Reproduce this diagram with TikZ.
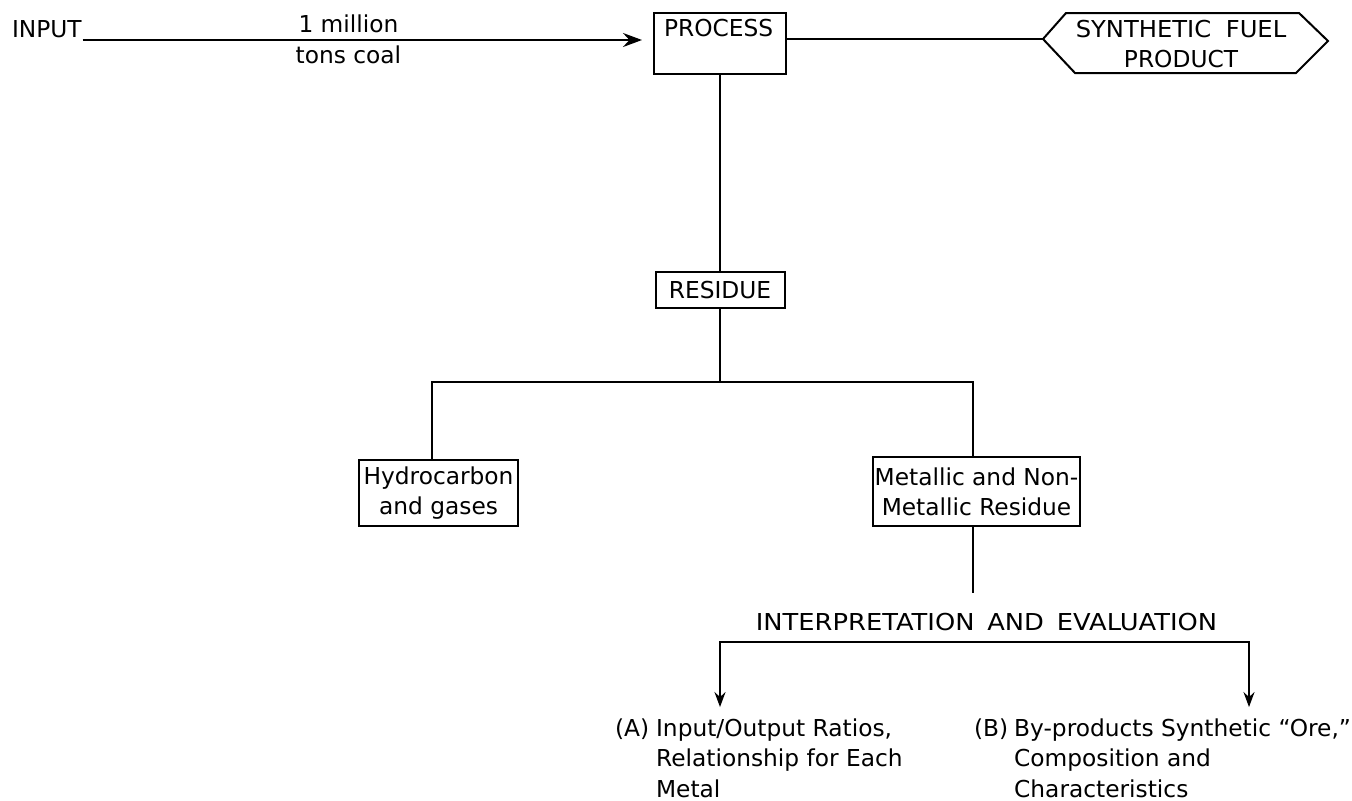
\documentclass[tikz,border=0pt]{standalone}
\usepackage{fontspec}
\setmainfont{DejaVu Sans}
\usepackage{graphicx}
\usetikzlibrary{arrows.meta}
\begin{document}
\begin{tikzpicture}[x=0.5pt,y=-0.5pt,
  line width=1pt,
  every node/.style={inner sep=0pt, font=\fontsize{11.65pt}{15pt}\selectfont},
  box/.style={draw, line width=1pt},
  multi/.style={align=center},
  flowbig/.style={-{Stealth[length=9.5pt,width=7pt,inset=3.2pt]}},
  flowtwo/.style={{Stealth[length=7.5pt,width=5.5pt,inset=2.5pt]}-{Stealth[length=7.5pt,width=5.5pt,inset=2.5pt]}},
  evaltext/.style={anchor=base west, font=\fontsize{11.65pt}{15.25pt}\selectfont}
]
\useasboundingbox (0,0) rectangle (1352,800);

% feed line into the process
\node[anchor=base west] (input) at (11,37) {INPUT};
\node[box, minimum width=66pt, minimum height=30.5pt] (process) at (720,43.5) {};
\node[anchor=base west] (processlbl) at ([xshift=5pt,yshift=-12pt]process.north west) {PROCESS};
\coordinate (topline) at (0,40);
\draw[flowbig, shorten >=5.5pt] (input.east |- topline) -- (process.west |- topline)
  node[pos=0.466, anchor=base, yshift=4pt] {1 million}
  node[pos=0.466, anchor=base, yshift=-11.5pt] {tons coal};

% product hexagon
\coordinate (fuelL) at (1043,39);
\draw[box] (fuelL) -- (1066,13) -- (1299,13) -- (1328,41) -- (1296,73) -- (1075,73) -- cycle;
\node[multi] (fuel) at (1181,44) {\scalebox{1.04}[1]{SYNTHETIC\hspace{0.6em}FUEL}\\PRODUCT};
\draw (process.east |- fuelL) -- (fuelL);

% residue and its split
\node[box, minimum width=64.5pt, minimum height=18pt] (residue) at (720,290) {RESIDUE};
\draw (process.south) -- (residue.north);
\coordinate (hx) at (432,382);
\coordinate (mx) at (973,382);
\draw (residue.south) -- (residue.south |- hx);
\node[box, multi, minimum width=79.5pt, minimum height=33pt] (hydro) at (438.5,493) {Hydrocarbon\\and gases};
\node[box, multi, minimum width=103.5pt, minimum height=34.5pt] (metal) at (976.5,491.5) {Metallic and Non-\\Metallic Residue};
\draw (hydro.north -| hx) -- (hx) -- (mx) -- (metal.north -| mx);

% interpretation and evaluation
\coordinate (md) at (973,593);
\draw (metal.south -| md) -- (md);
\node[anchor=base] (interp) at (986.5,630) {\scalebox{1.105}[1]{INTERPRETATION\hspace{0.5em}AND\hspace{0.5em}EVALUATION}};
\node[evaltext] (evalA) at (614,736) {\begin{tabular}[t]{@{}r@{\hspace{3.5pt}}l@{}}(A)&Input/Output Ratios,\\&Relationship for Each\\&Metal\end{tabular}};
\node[evaltext] (evalB) at (973,736) {\begin{tabular}[t]{@{}r@{\hspace{3pt}}l@{}}(B)&By-products Synthetic ``Ore,''\\&Composition and\\&Characteristics\end{tabular}};
\coordinate (ieL) at (720,642);
\coordinate (ieR) at (1249,642);
\draw[flowtwo, shorten <=3.3pt, shorten >=3.3pt] (ieL |- evalA.north) -- (ieL) -- (ieR) -- (ieR |- evalB.north);
\end{tikzpicture}
\end{document}
